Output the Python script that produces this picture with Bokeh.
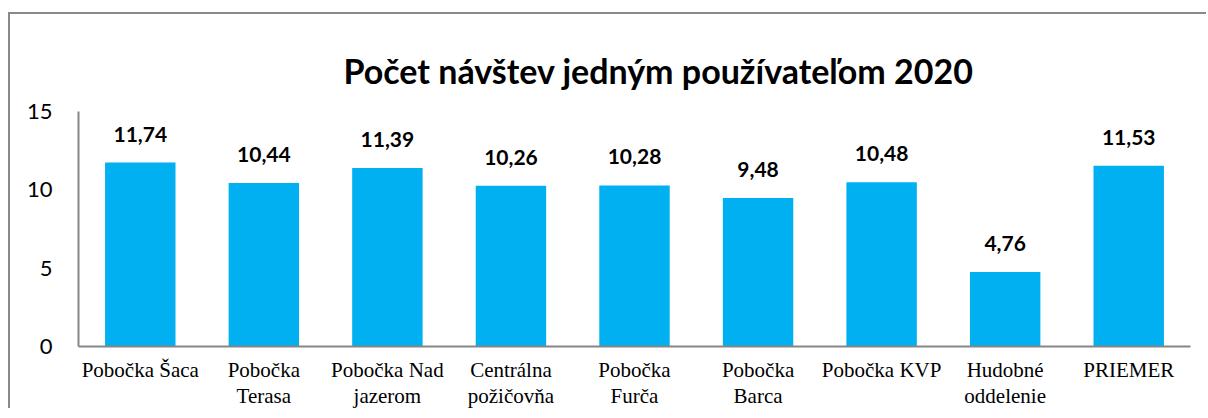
from bokeh.plotting import figure
from bokeh.models import ColumnDataSource, FactorRange, LabelSet, Title
from bokeh.core.properties import value
from bokeh.embed import file_html
from bokeh.resources import INLINE

categories = ["Pobočka Šaca", "Pobočka\nTerasa", "Pobočka Nad\njazerom", "Centrálna\npožičovňa",
              "Pobočka\nFurča", "Pobočka\nBarca", "Pobočka KVP", "Hudobné\noddelenie", "PRIEMER"]
values = [11.74, 10.44, 11.39, 10.26, 10.28, 9.48, 10.48, 4.76, 11.53]
value_labels = [f"{v:.2f}".replace(".", ",") for v in values]
y_ticks = [0, 5, 10, 15]
title_text = "Počet návštev jedným používateľom 2020"

source = ColumnDataSource(data=dict(cat=categories, val=values, lab=value_labels))

p = figure(x_range=FactorRange(factors=categories, range_padding=0), y_range=(0, 15),
           width=1198, height=396, output_backend="svg", toolbar_location=None,
           min_border_left=68, min_border_right=18, min_border_top=97, min_border_bottom=62)
p.styles = {"box-shadow": "-2px -2px 0 0 #898989",
            "margin-top": "14px", "margin-left": "10px"}

p.vbar(x="cat", top="val", width=0.57, source=source, color="#00B0F0", line_color=None)

labels = LabelSet(x="cat", y="val", text="lab", source=source, y_offset=21,
                  text_align="center", text_baseline="alphabetic",
                  text_font=value("Lato"), text_font_style="bold", text_font_size="21px",
                  text_color="#000000")
p.add_layout(labels)

t = Title(text=title_text, align="left", offset=265, standoff=42,
          text_font="Lato", text_font_style="bold", text_font_size="34px", text_color="#000000")
p.add_layout(t, "above")

p.outline_line_color = None
p.grid.grid_line_color = None

p.yaxis.ticker = y_ticks
p.yaxis.axis_line_color = "#868686"
p.yaxis.axis_line_width = 2
p.yaxis.major_tick_line_color = None
p.yaxis.minor_tick_line_color = None
p.yaxis.major_label_standoff = 20
p.yaxis.major_label_text_font = "Lato"
p.yaxis.major_label_text_font_size = "22px"
p.yaxis.major_label_text_color = "#000000"

p.xaxis.axis_line_color = "#868686"
p.xaxis.axis_line_width = 2
p.xaxis.major_tick_line_color = None
p.xaxis.minor_tick_line_color = None
p.xaxis.major_label_standoff = 5
p.xaxis.major_label_text_font = "Liberation Serif"
p.xaxis.major_label_text_font_size = "21px"
p.xaxis.major_label_text_line_height = 1.1
p.xaxis.major_label_text_color = "#000000"
p.xaxis.major_label_orientation = "horizontal"

open("out.html", "w").write(file_html(p, INLINE))
